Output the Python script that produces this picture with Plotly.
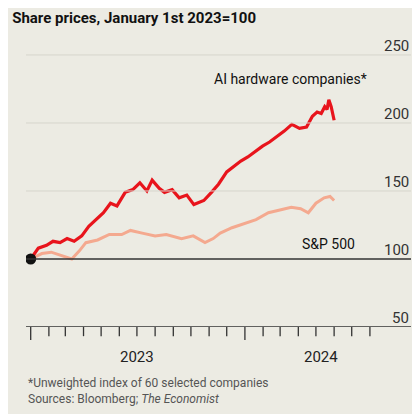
import plotly.graph_objects as go

ai_dates = ["2023-01-01","2023-01-14","2023-01-28","2023-02-08","2023-02-20","2023-03-04","2023-03-16","2023-03-29","2023-04-10","2023-04-22","2023-05-05","2023-05-17","2023-05-28","2023-06-11","2023-06-24","2023-07-06","2023-07-18","2023-07-27","2023-08-08","2023-08-17","2023-08-30","2023-09-11","2023-09-24","2023-10-06","2023-10-23","2023-11-05","2023-11-17","2023-12-01","2023-12-12","2023-12-25","2024-01-06","2024-01-18","2024-01-31","2024-02-12","2024-02-25","2024-03-08","2024-03-21","2024-04-03","2024-04-15","2024-04-25","2024-05-03","2024-05-10","2024-05-16","2024-05-20","2024-05-23","2024-05-27","2024-06-01"]
ai_vals = [100,108,110,113,112,115,113,117,124,129,134,141,139,149,151,156,150,158,152,149,151,145,147,140,143,149,155,164,168,172,175,179,183,186,190,194,199,196,197,205,208,207,212,210,217,212,202]
sp_dates = ["2023-01-01","2023-01-20","2023-02-05","2023-02-20","2023-03-12","2023-03-25","2023-04-05","2023-04-25","2023-05-15","2023-06-05","2023-06-20","2023-07-10","2023-08-01","2023-08-20","2023-09-15","2023-10-05","2023-10-25","2023-11-08","2023-11-20","2023-12-10","2023-12-31","2024-01-20","2024-02-10","2024-03-01","2024-03-20","2024-04-05","2024-04-18","2024-05-01","2024-05-15","2024-05-25","2024-06-01"]
sp_vals = [100,104,105,103,100,106,112,114,118,118,121,119,117,118,115,117,112,115,119,123,126,129,134,136,138,137,134,141,145,146,143]
yticks = [50,100,150,200,250]

fig = go.Figure()
for v in [150,200,250]:
    fig.add_hline(y=v, line=dict(color="#d6d5cc", width=1))
fig.add_hline(y=100, line=dict(color="#333333", width=1.3))
fig.add_hline(y=50, line=dict(color="#333333", width=1.3))
fig.add_trace(go.Scatter(x=sp_dates, y=sp_vals, mode="lines", line=dict(color="#f4a98f", width=3)))
fig.add_trace(go.Scatter(x=ai_dates, y=ai_vals, mode="lines", line=dict(color="#e8141c", width=3.2)))
fig.add_trace(go.Scatter(x=[ai_dates[0]], y=[100], mode="markers", marker=dict(color="#111", size=11)))

months = [f"{y}-{m:02d}-01" for y in (2023, 2024) for m in range(1, 13)][:20]
for d in months:
    long = d.endswith("-01-01")
    fig.add_shape(type="line", xref="x", yref="paper", x0=d, x1=d, y0=0, y1=-0.045 if long else -0.032,
                  line=dict(color="#333", width=1.3))
for v in yticks:
    fig.add_annotation(x=1, xref="paper", y=v, yref="y", text=str(v), showarrow=False,
                       xanchor="right", yanchor="bottom", font=dict(size=15, color="#333"), yshift=-2)
for d, t in [("2023-07-01", "2023"), ("2024-05-10", "2024")]:
    fig.add_annotation(x=d, xref="x", y=-0.065, yref="paper", text=t, showarrow=False,
                       yanchor="top", font=dict(size=15, color="#222"))
fig.add_annotation(x=0.89, xref="paper", y=225, yref="y", text="AI hardware companies*", showarrow=False,
                   xanchor="right", yanchor="bottom", font=dict(size=14, color="#111"))
fig.add_annotation(x=0.86, xref="paper", y=104, yref="y", text="S&P 500", showarrow=False,
                   xanchor="right", yanchor="bottom", font=dict(size=14, color="#111"))

fig.update_layout(
    width=420, height=414, margin=dict(l=18, r=17, t=32, b=95),
    paper_bgcolor="#ecebe3", plot_bgcolor="#ecebe3", showlegend=False,
    font=dict(family="Roboto, Liberation Sans, sans-serif"),
    title=dict(text="<b>Share prices, January 1st 2023=100</b>", x=0.01, xanchor="left", y=0.99, yanchor="top",
               font=dict(size=15, color="#111")),
    xaxis=dict(range=["2022-12-24", "2024-10-10"], showgrid=False, showticklabels=False, zeroline=False),
    yaxis=dict(range=[50, 261], showgrid=False, showticklabels=False, zeroline=False),
)
fig.add_annotation(x=0, xref="paper", y=-0.165, yref="paper", xanchor="left", yanchor="top", showarrow=False, align="left",
                   text="*Unweighted index of 60 selected companies<br>Sources: Bloomberg; <i>The Economist</i>",
                   font=dict(size=12, color="#555"))
fig.write_html("out.html")
